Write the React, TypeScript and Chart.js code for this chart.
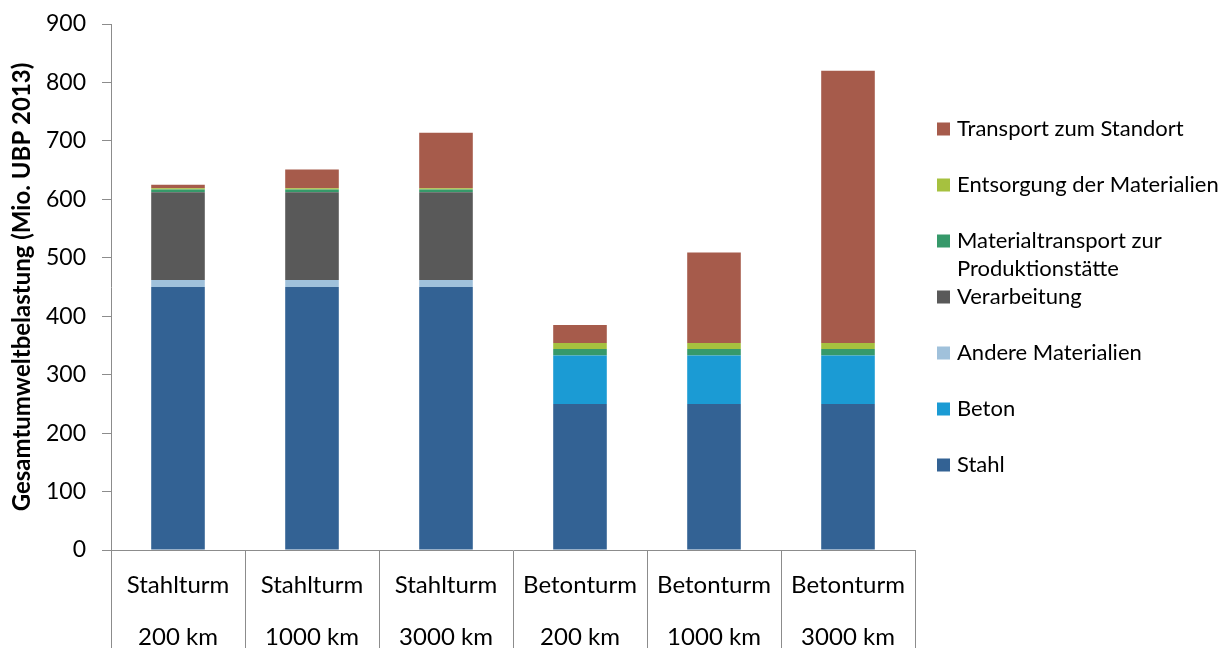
import React, { useEffect, useRef } from "react";
import { Chart, registerables } from "chart.js";

Chart.register(...registerables);

const categories: string[][] = [
  ["Stahlturm", "200 km"],
  ["Stahlturm", "1000 km"],
  ["Stahlturm", "3000 km"],
  ["Betonturm", "200 km"],
  ["Betonturm", "1000 km"],
  ["Betonturm", "3000 km"],
];

const stahl = [450, 450, 450, 250, 250, 250];
const beton = [0, 0, 0, 83, 83, 83];
const andereMaterialien = [12, 12, 12, 0, 0, 0];
const verarbeitung = [150, 150, 150, 0, 0, 0];
const materialtransport = [5, 5, 5, 11, 11, 11];
const entsorgung = [2, 2, 2, 10, 10, 10];
const transportStandort = [6, 32, 95, 31, 155, 466];

const yTicks = [0, 100, 200, 300, 400, 500, 600, 700, 800, 900];

const FONT = "Lato, 'Open Sans', sans-serif";
const FS = 23;
const XFS = 24;
const LFS = 22;

const sideLegend = {
  id: "sideLegend",
  afterDraw(chart: any) {
    const ctx = chart.ctx;
    const area = chart.chartArea;
    const x0 = area.right + 22;
    const y0 = area.top + 105;
    const items = chart.data.datasets.slice().reverse();
    ctx.save();
    ctx.font = `${LFS}px ${FONT}`;
    ctx.textBaseline = "middle";
    ctx.textAlign = "left";
    items.forEach((ds: any, i: number) => {
      const y = y0 + i * 56;
      ctx.fillStyle = ds.backgroundColor;
      ctx.fillRect(x0, y - 6.5, 13, 13);
      ctx.fillStyle = "#000";
      String(ds.label)
        .split("\n")
        .forEach((line: string, j: number) => {
          ctx.fillText(line, x0 + 20, y + j * 28);
        });
    });
    ctx.restore();
  },
};

export default function App() {
  const ref = useRef<HTMLCanvasElement | null>(null);

  useEffect(() => {
    if (!ref.current) return;
    const chart = new Chart(ref.current, {
      type: "bar",
      data: {
        labels: categories,
        datasets: [
          { label: "Stahl", data: stahl, backgroundColor: "#336294" },
          { label: "Beton", data: beton, backgroundColor: "#1b9bd4" },
          { label: "Andere Materialien", data: andereMaterialien, backgroundColor: "#a0c1db" },
          { label: "Verarbeitung", data: verarbeitung, backgroundColor: "#595959" },
          { label: "Materialtransport zur\nProduktionstätte", data: materialtransport, backgroundColor: "#36996a" },
          { label: "Entsorgung der Materialien", data: entsorgung, backgroundColor: "#a6c13f" },
          { label: "Transport zum Standort", data: transportStandort, backgroundColor: "#a65b4b" },
        ],
      },
      options: {
        responsive: false,
        animation: false,
        devicePixelRatio: 1,
        layout: { padding: { top: 24, right: 313, left: 0, bottom: 0 } },
        datasets: {
          bar: { categoryPercentage: 1, barPercentage: 0.4 },
        },
        plugins: {
          legend: { display: false },
          tooltip: { enabled: false },
        },
        scales: {
          x: {
            stacked: true,
            grid: {
              offset: true,
              drawOnChartArea: false,
              drawTicks: true,
              tickLength: 98,
              color: "#8c8c8c",
            },
            border: { color: "#8c8c8c", width: 1 },
            ticks: {
              padding: -89,
              color: "#000",
              font: { family: FONT, size: XFS, lineHeight: 52 / XFS },
              maxRotation: 0,
              autoSkip: false,
            },
            afterFit: (s: any) => {
              s.height = 98;
            },
          },
          y: {
            stacked: true,
            min: 0,
            max: 900,
            afterBuildTicks: (s: any) => {
              s.ticks = yTicks.map((v) => ({ value: v }));
            },
            grid: {
              drawOnChartArea: false,
              drawTicks: true,
              tickLength: 9,
              color: "#8c8c8c",
            },
            border: { color: "#8c8c8c", width: 1 },
            ticks: {
              padding: 16,
              color: "#000",
              font: { family: FONT, size: FS, lineHeight: 0.5 },
            },
            title: {
              display: true,
              text: "Gesamtumweltbelastung (Mio. UBP 2013)",
              color: "#000",
              font: { family: FONT, size: 24, weight: "bold" },
              padding: { top: 8, bottom: 0 },
            },
            afterFit: (s: any) => {
              s.width = 111;
            },
          },
        },
      },
      plugins: [sideLegend],
    } as any);
    return () => chart.destroy();
  }, []);

  return (
    <div style={{ position: "absolute", left: 0, top: 0, width: 1228, height: 648, background: "#fff" }}>
      <canvas ref={ref} width={1228} height={648} style={{ display: "block" }} />
    </div>
  );
}
